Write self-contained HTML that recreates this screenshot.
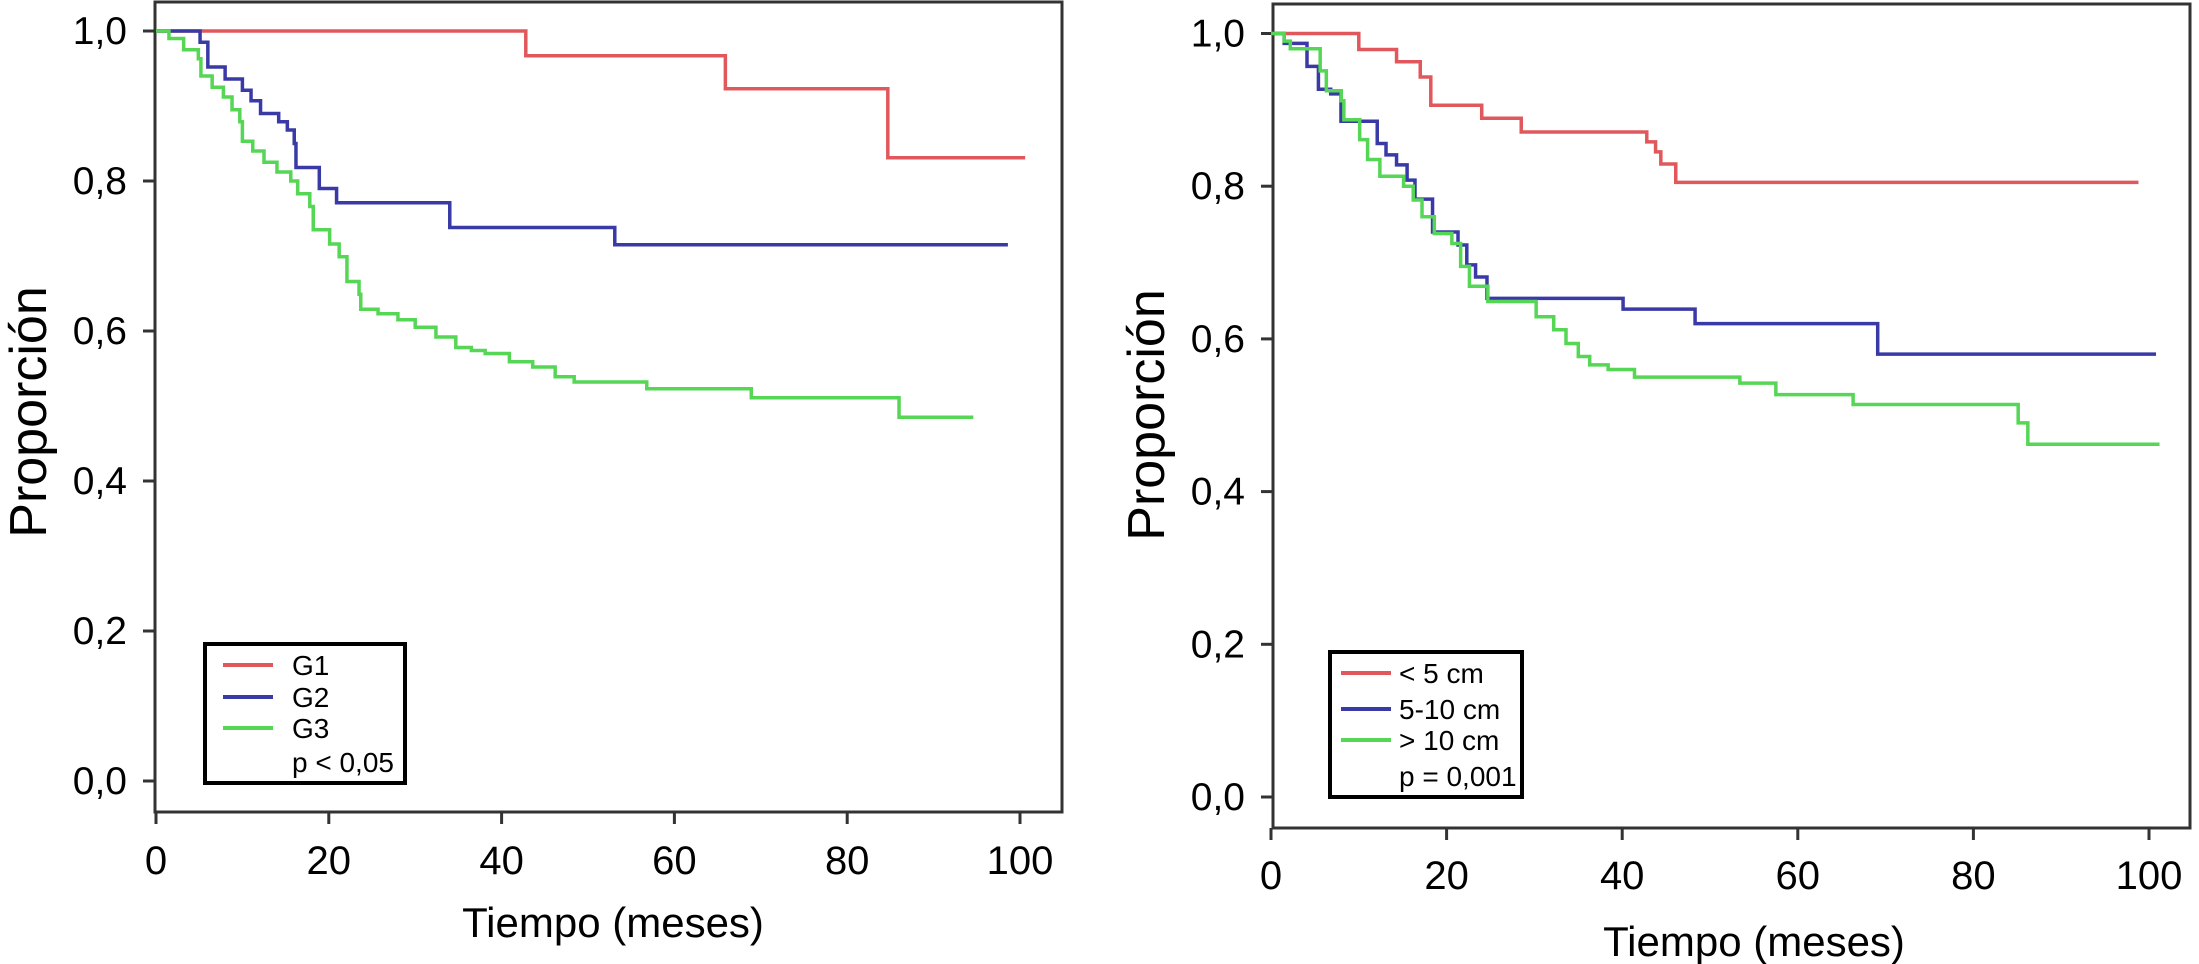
<!DOCTYPE html>
<html><head><meta charset="utf-8">
<style>
html,body{margin:0;padding:0;background:#fff;}
svg{display:block;font-family:"Liberation Sans",Arial,sans-serif;}
</style></head>
<body>
<svg id="fig" width="2199" height="964" viewBox="0 0 2199 964">
<g id="left"></g>
<g id="right"></g>
</svg>
<script>
// ---- Left chart data (grade) ----
const leftXTicks = [0, 20, 40, 60, 80, 100];
const leftYTicks = [0, 0.2, 0.4, 0.6, 0.8, 1.0];
const leftYTickLabels = ["0,0", "0,2", "0,4", "0,6", "0,8", "1,0"];
const g1Times = [42.8, 65.9, 84.7];
const g1Values = [0.967, 0.923, 0.831];
const g1End = 100.6;
const g2Times = [5.1, 6.0, 8.0, 10.0, 11.0, 12.1, 14.2, 15.2, 16.0, 16.2, 18.9, 20.9, 34.0, 53.1];
const g2Values = [0.985, 0.952, 0.936, 0.921, 0.907, 0.89, 0.879, 0.868, 0.85, 0.818, 0.79, 0.771, 0.738, 0.715];
const g2End = 98.6;
const g3Times = [1.5, 3.2, 4.9, 5.2, 6.5, 7.8, 8.8, 9.7, 10.0, 11.2, 12.5, 14.0, 15.6, 16.4, 17.8, 18.2, 20.1, 21.2, 22.1, 23.5, 23.7, 25.7, 28.0, 30.0, 32.4, 34.7, 36.5, 38.1, 40.9, 43.6, 46.2, 48.4, 56.8, 68.9, 86.0];
const g3Values = [0.99, 0.975, 0.963, 0.94, 0.925, 0.912, 0.895, 0.879, 0.853, 0.84, 0.825, 0.812, 0.8, 0.783, 0.766, 0.735, 0.716, 0.699, 0.666, 0.649, 0.629, 0.623, 0.615, 0.605, 0.592, 0.578, 0.574, 0.57, 0.559, 0.552, 0.539, 0.532, 0.523, 0.511, 0.485];
const g3End = 94.6;

// ---- Right chart data (size) ----
const rightXTicks = [0, 20, 40, 60, 80, 100];
const rightYTicks = [0, 0.2, 0.4, 0.6, 0.8, 1.0];
const rightYTickLabels = ["0,0", "0,2", "0,4", "0,6", "0,8", "1,0"];
const s1Times = [10.0, 14.3, 17.0, 18.2, 24.0, 28.5, 42.8, 43.8, 44.4, 46.1];
const s1Values = [0.979, 0.963, 0.943, 0.906, 0.889, 0.871, 0.858, 0.845, 0.829, 0.805];
const s1End = 98.8;
const s2Times = [1.5, 4.1, 5.4, 6.8, 7.97, 12.1, 13.1, 14.3, 15.5, 16.4, 18.4, 21.3, 22.3, 23.3, 24.6, 40.1, 48.3, 69.1];
const s2Values = [0.987, 0.957, 0.927, 0.921, 0.885, 0.856, 0.841, 0.828, 0.808, 0.783, 0.74, 0.723, 0.697, 0.681, 0.653, 0.639, 0.62, 0.58];
const s2End = 100.8;
const s3Times = [1.5, 2.2, 5.6, 6.3, 8.0, 8.3, 10.1, 11.0, 12.4, 15.1, 16.2, 17.2, 18.6, 20.6, 21.6, 22.6, 24.7, 30.2, 32.2, 33.6, 35.0, 36.3, 38.4, 41.4, 53.4, 57.5, 66.3, 85.1, 86.2];
const s3Values = [0.99, 0.98, 0.951, 0.925, 0.912, 0.887, 0.861, 0.835, 0.813, 0.8, 0.782, 0.76, 0.738, 0.725, 0.695, 0.669, 0.649, 0.629, 0.612, 0.594, 0.577, 0.566, 0.56, 0.55, 0.542, 0.527, 0.514, 0.49, 0.462];
const s3End = 101.2;

const NS = "http://www.w3.org/2000/svg";
function mk(parent, tag, attrs, text) {
  const e = document.createElementNS(NS, tag);
  for (const k in attrs) e.setAttribute(k, attrs[k]);
  if (text !== undefined) e.textContent = text;
  parent.appendChild(e);
  return e;
}

function drawChart(g, cfg) {
  const X = t => cfg.x0 + cfg.xs * t;
  const Y = v => cfg.y0 - cfg.ys * v;
  const frame = mk(g, "rect", {x: cfg.left, y: cfg.top, width: cfg.right - cfg.left, height: cfg.bottom - cfg.top, fill: "none", stroke: "#333", "stroke-width": 3});
  
  
  cfg.yTicks.forEach((v, i) => {
    const tk = mk(g, "line", {x1: cfg.left - 12, x2: cfg.left, y1: Y(v), y2: Y(v), stroke: "#333", "stroke-width": 3});
    
    
    const lb = mk(g, "text", {x: cfg.left - 28, y: Y(v) + 13, "text-anchor": "end", "font-size": 39, fill: "#000"}, cfg.yLabels[i]);
    
    
  });
  cfg.xTicks.forEach(t => {
    const tk = mk(g, "line", {x1: X(t), x2: X(t), y1: cfg.bottom, y2: cfg.bottom + 12, stroke: "#333", "stroke-width": 3});
    
    
    const lb = mk(g, "text", {x: X(t), y: cfg.xLabelY, "text-anchor": "middle", "font-size": 40, fill: "#000"}, String(t));
    
    
  });
  const xt = mk(g, "text", {x: cfg.xTitleX, y: cfg.xTitleY, "text-anchor": "middle", "font-size": 42, fill: "#000"}, "Tiempo (meses)");
  
  
  const yt = mk(g, "text", {x: 0, y: 0, "text-anchor": "middle", "font-size": 52, fill: "#000", transform: `translate(${cfg.yTitleX},${cfg.yTitleY}) rotate(-90)`}, "Proporción");
  
  
  cfg.series.forEach(s => {
    let d = `M${X(0)},${Y(1)}`;
    s.times.forEach((t, i) => {
      d += ` H${X(t)} V${Y(s.values[i])}`;
    });
    d += ` H${X(s.end)}`;
    const p = mk(g, "path", {d: d, fill: "none", stroke: s.color, "stroke-width": 3.5});
    
    
  });
  const L = cfg.legend;
  const box = mk(g, "rect", {x: L.x, y: L.y, width: L.w, height: L.h, fill: "#fff", stroke: "#000", "stroke-width": 4});
  
  
  cfg.series.forEach((s, i) => {
    const ln = mk(g, "line", {x1: L.lx1, x2: L.lx2, y1: L.rows[i], y2: L.rows[i], stroke: s.color, "stroke-width": 4});
    
    
    const tx = mk(g, "text", {x: L.tx, y: L.rows[i] + 10, "font-size": 28, fill: "#000"}, s.label);
    
    
  });
  const pv = mk(g, "text", {x: L.tx, y: L.rows[3] + 10, "font-size": 28, fill: "#000"}, L.p);
  
  
}

const RED = "#e0585c", BLUE = "#3a3aa6", GREEN = "#55d655";

drawChart(document.getElementById("left"), {
  left: 155, right: 1062, top: 2, bottom: 812,
  x0: 156, xs: 8.64, y0: 781, ys: 750,
  xTicks: leftXTicks, yTicks: leftYTicks, yLabels: leftYTickLabels,
  xLabelY: 874, xTitleX: 613, xTitleY: 937, yTitleX: 46, yTitleY: 412,
  series: [
    {name: "g1-curve", label: "G1", color: RED, times: g1Times, values: g1Values, end: g1End},
    {name: "g2-curve", label: "G2", color: BLUE, times: g2Times, values: g2Values, end: g2End},
    {name: "g3-curve", label: "G3", color: GREEN, times: g3Times, values: g3Values, end: g3End}
  ],
  legend: {x: 205, y: 644, w: 200, h: 139, lx1: 223, lx2: 273, tx: 292, rows: [665, 697, 728, 762], p: "p < 0,05"}
});

drawChart(document.getElementById("right"), {
  left: 1273, right: 2190, top: 4, bottom: 828,
  x0: 1271, xs: 8.78, y0: 797, ys: 763.5,
  xTicks: rightXTicks, yTicks: rightYTicks, yLabels: rightYTickLabels,
  xLabelY: 889, xTitleX: 1754, xTitleY: 956, yTitleX: 1164, yTitleY: 415,
  series: [
    {name: "lt5cm-curve", label: "< 5 cm", color: RED, times: s1Times, values: s1Values, end: s1End},
    {name: "5-10cm-curve", label: "5-10 cm", color: BLUE, times: s2Times, values: s2Values, end: s2End},
    {name: "gt10cm-curve", label: "> 10 cm", color: GREEN, times: s3Times, values: s3Values, end: s3End}
  ],
  legend: {x: 1330, y: 652, w: 192, h: 145, lx1: 1341, lx2: 1391, tx: 1399, rows: [673, 709, 740, 776], p: "p = 0,001"}
});
</script>
</body></html>
